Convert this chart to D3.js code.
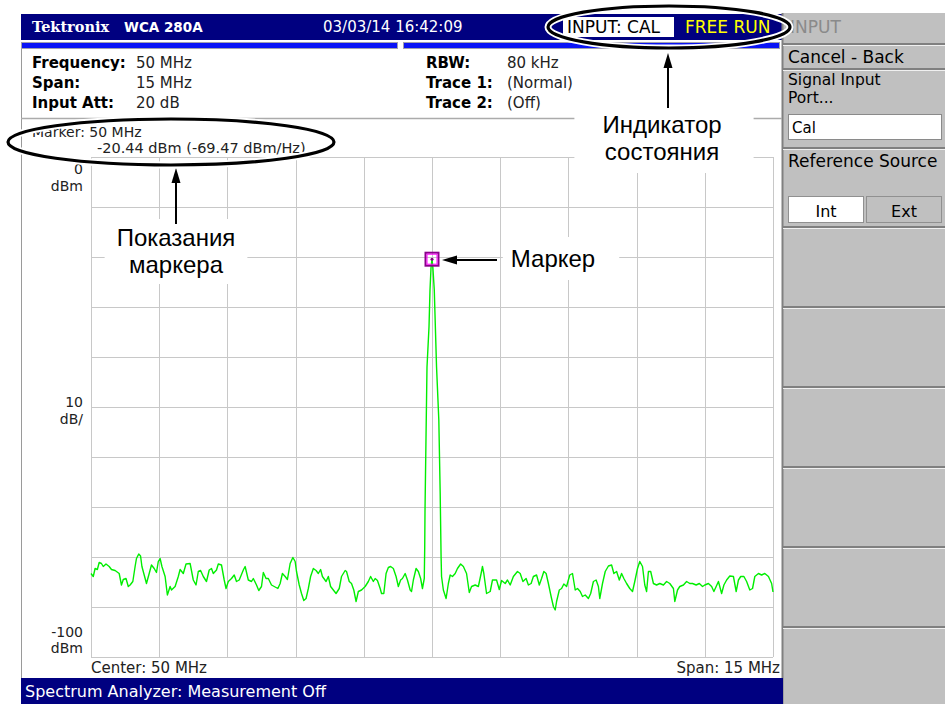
<!DOCTYPE html>
<html>
<head>
<meta charset="utf-8">
<script src="https://cdn.jsdelivr.net/npm/d3@7"></script>
<style>
  body { margin: 0; background: #fff; }
  svg text { font-family: "DejaVu Sans", sans-serif; }
  .note { font-family: "Liberation Sans", Arial, sans-serif; font-size: 24px; fill: #000; }
</style>
</head>
<body>
<svg id="screen" width="945" height="704"></svg>
<script>
// instrument state shown on the screen
var centerMHz = 50, spanMHz = 15;
var refLevel = 0, dbPerDiv = 10, divisions = 10;
var settingsLeft = [["Frequency:", "50 MHz"], ["Span:", "15 MHz"], ["Input Att:", "20 dB"]];
var settingsRight = [["RBW:", "80 kHz"], ["Trace 1:", "(Normal)"], ["Trace 2:", "(Off)"]];
var yLabels = [
  {level: 0, lines: ["0", "dBm"], place: "below"},
  {level: -50, lines: ["10", "dB/"], place: "middle"},
  {level: -100, lines: ["-100", "dBm"], place: "above"}
];
var markerMHz = 50, markerDbm = -20.44, markerDensity = -69.47;
var menuTitle = "INPUT";
var menuButtons = ["Int", "Ext"];

// trace 1, [MHz, dBm]
var trace = [
  [42.50,-83.3],[42.55,-83.9],[42.59,-82.3],[42.64,-82.5],[42.68,-81.1],[42.73,-81.3],[42.77,-81.9],[42.83,-81.4],
  [42.90,-81.9],[42.95,-82.5],[43.03,-82.7],[43.12,-83.3],[43.17,-85.6],[43.21,-84.5],[43.27,-84.3],[43.32,-85.9],
  [43.36,-85.6],[43.42,-84.9],[43.47,-81.9],[43.50,-80.3],[43.55,-79.4],[43.59,-79.8],[43.62,-81.9],[43.67,-83.6],
  [43.72,-85.3],[43.78,-83.3],[43.83,-81.6],[43.89,-82.3],[43.94,-83.1],[43.98,-80.9],[44.02,-80.3],[44.06,-81.9],
  [44.13,-83.9],[44.18,-87.6],[44.24,-85.9],[44.27,-86.6],[44.35,-85.9],[44.42,-83.9],[44.46,-82.5],[44.53,-83.3],
  [44.59,-81.4],[44.68,-81.3],[44.75,-84.6],[44.81,-85.6],[44.86,-82.9],[44.91,-82.7],[44.97,-83.9],[45.04,-84.9],
  [45.10,-82.6],[45.15,-82.3],[45.19,-83.3],[45.26,-82.6],[45.30,-81.4],[45.37,-81.6],[45.43,-84.6],[45.47,-86.3],
  [45.52,-84.9],[45.59,-84.3],[45.65,-83.6],[45.70,-84.9],[45.76,-84.6],[45.85,-82.6],[45.89,-81.9],[45.96,-84.6],
  [46.03,-84.9],[46.07,-84.3],[46.14,-85.6],[46.19,-86.7],[46.25,-85.9],[46.29,-83.1],[46.35,-84.3],[46.40,-84.3],
  [46.47,-85.6],[46.53,-85.9],[46.61,-86.3],[46.66,-85.3],[46.71,-83.3],[46.77,-83.9],[46.82,-84.5],[46.88,-81.3],
  [46.94,-80.1],[46.99,-80.9],[47.02,-82.9],[47.08,-85.6],[47.13,-87.3],[47.18,-88.7],[47.23,-88.3],[47.28,-86.3],
  [47.33,-83.9],[47.39,-82.3],[47.45,-82.7],[47.50,-83.3],[47.55,-82.5],[47.59,-83.9],[47.67,-84.9],[47.72,-83.9],
  [47.77,-85.9],[47.83,-86.6],[47.89,-87.3],[47.96,-86.3],[48.01,-83.9],[48.09,-82.7],[48.12,-82.9],[48.18,-84.9],
  [48.23,-85.3],[48.28,-86.6],[48.33,-88.9],[48.38,-86.9],[48.45,-86.6],[48.53,-85.9],[48.60,-84.9],[48.65,-83.9],
  [48.71,-84.9],[48.75,-84.3],[48.80,-84.7],[48.86,-86.3],[48.89,-87.3],[48.94,-87.3],[48.99,-83.3],[49.04,-82.1],
  [49.09,-81.9],[49.15,-82.3],[49.21,-83.9],[49.26,-85.9],[49.31,-84.6],[49.35,-84.3],[49.41,-83.3],[49.46,-84.6],
  [49.52,-86.6],[49.55,-86.9],[49.59,-84.6],[49.65,-82.3],[49.70,-82.9],[49.75,-84.3],[49.79,-86.3],[49.83,-84.3],
  [49.84,-78.0],[49.846,-71.0],[49.868,-56.2],[49.89,-42.0],[49.934,-34.0],[49.956,-26.6],[49.978,-22.2],[50.00,-20.44],
  [50.02,-22.2],[50.05,-26.6],[50.10,-42.0],[50.15,-52.6],[50.18,-67.2],[50.20,-80.0],
  [50.21,-83.9],[50.25,-86.6],[50.31,-88.3],[50.36,-85.3],[50.40,-83.6],[50.45,-83.9],[50.51,-83.3],[50.56,-82.3],
  [50.63,-81.4],[50.69,-81.9],[50.76,-83.3],[50.82,-87.1],[50.87,-85.9],[50.95,-85.6],[51.02,-85.9],[51.08,-83.3],
  [51.11,-81.9],[51.14,-83.3],[51.20,-87.3],[51.28,-86.9],[51.33,-84.6],[51.42,-84.6],[51.48,-86.5],[51.53,-84.7],
  [51.61,-85.3],[51.66,-84.6],[51.72,-85.6],[51.79,-83.9],[51.88,-82.9],[51.94,-83.3],[52.00,-84.9],[52.07,-84.3],
  [52.12,-85.6],[52.18,-85.3],[52.23,-83.9],[52.30,-83.6],[52.36,-85.6],[52.41,-84.3],[52.46,-82.9],[52.51,-83.3],
  [52.56,-85.3],[52.62,-87.9],[52.67,-89.9],[52.71,-90.6],[52.74,-88.9],[52.80,-86.6],[52.85,-86.3],[52.90,-85.4],
  [52.96,-85.9],[53.03,-83.6],[53.09,-83.3],[53.15,-86.6],[53.20,-86.3],[53.26,-86.9],[53.31,-87.9],[53.37,-87.6],
  [53.44,-88.3],[53.49,-87.3],[53.55,-84.9],[53.61,-84.6],[53.66,-85.9],[53.69,-88.3],[53.75,-85.3],[53.81,-82.9],
  [53.88,-81.8],[53.95,-81.6],[54.00,-83.3],[54.06,-82.9],[54.12,-84.6],[54.17,-83.3],[54.22,-84.3],[54.28,-85.3],
  [54.35,-86.3],[54.41,-86.9],[54.46,-84.9],[54.52,-82.3],[54.57,-80.9],[54.63,-81.9],[54.68,-85.6],[54.72,-86.9],
  [54.76,-82.9],[54.81,-82.9],[54.87,-85.3],[54.94,-85.6],[55.01,-85.3],[55.09,-85.6],[55.16,-84.9],[55.23,-85.3],
  [55.31,-86.3],[55.34,-88.9],[55.40,-86.6],[55.45,-85.9],[55.53,-85.6],[55.60,-84.9],[55.67,-85.3],[55.73,-85.3],
  [55.81,-85.6],[55.88,-85.3],[55.95,-85.9],[56.00,-85.6],[56.08,-85.3],[56.15,-85.9],[56.20,-86.9],[56.25,-85.9],
  [56.30,-84.9],[56.37,-87.3],[56.42,-85.6],[56.48,-84.6],[56.55,-83.8],[56.63,-83.9],[56.69,-86.9],[56.74,-84.6],
  [56.79,-83.9],[56.86,-83.9],[56.92,-84.9],[56.99,-86.6],[57.05,-86.3],[57.10,-83.9],[57.18,-83.3],[57.25,-83.6],
  [57.32,-83.3],[57.40,-83.9],[57.47,-85.3],[57.50,-87.0]
];

var navy = "#000080";
var svg = d3.select("#screen");

var x = d3.scaleLinear()
    .domain([centerMHz - spanMHz / 2, centerMHz + spanMHz / 2])
    .range([91, 773]);
var y = d3.scaleLinear()
    .domain([refLevel - dbPerDiv * divisions, refLevel])
    .range([657, 157]);

// ---- title bar
svg.append("rect").attr("x", 21).attr("y", 14).attr("width", 762).attr("height", 26).attr("fill", navy);
[[21, 376], [403, 376]].forEach(function(b){
  svg.append("rect").attr("x", b[0] + 0.5).attr("y", 42.5).attr("width", b[1]).attr("height", 6)
    .attr("fill", "#0a14f5").attr("stroke", "#a0a0b0");
});
svg.append("text").attr("x", 32).attr("y", 32).attr("fill", "#fff")
  .style("font-family", "'DejaVu Serif', serif").style("font-weight", "bold").style("font-size", "14.5px")
  .text("Tektronix");
svg.append("text").attr("x", 124).attr("y", 32).attr("fill", "#fff")
  .style("font-weight", "bold").style("font-size", "13.5px").text("WCA 280A");
svg.append("text").attr("x", 323).attr("y", 32).attr("fill", "#fff")
  .style("font-size", "15px").text("03/03/14 16:42:09");
svg.append("rect").attr("x", 563).attr("y", 17).attr("width", 111).attr("height", 20).attr("fill", "#fff");
svg.append("text").attr("x", 567).attr("y", 33).attr("fill", "#000").style("font-size", "17px").text("INPUT: CAL");
svg.append("text").attr("x", 685).attr("y", 33).attr("fill", "#ffff00").style("font-size", "17px").text("FREE RUN");

// ---- right menu panel
var panel = svg.append("g");
panel.append("rect").attr("x", 782).attr("y", 13).attr("width", 163).attr("height", 691).attr("fill", "#c0c0c0");
panel.append("line").attr("x1", 782.5).attr("x2", 782.5).attr("y1", 13).attr("y2", 704)
  .attr("stroke", "#808080").attr("stroke-width", 2);
[43, 68, 147, 226, 306, 386, 466, 546, 626].forEach(function(s){
  panel.append("rect").attr("x", 783).attr("y", s).attr("width", 162).attr("height", 2).attr("fill", "#808080");
  panel.append("rect").attr("x", 783).attr("y", s + 2).attr("width", 162).attr("height", 1).attr("fill", "#f0f0f0");
});
panel.append("text").attr("x", 790).attr("y", 33).attr("fill", "#8a8a8a").style("font-size", "17px").text(menuTitle);
panel.append("text").attr("x", 788).attr("y", 63).style("font-size", "17px").text("Cancel - Back");
panel.append("text").attr("x", 788).attr("y", 85).style("font-size", "15.5px").text("Signal Input");
panel.append("text").attr("x", 788).attr("y", 103).style("font-size", "15.5px").text("Port...");
panel.append("rect").attr("x", 788.5).attr("y", 114.5).attr("width", 153).attr("height", 25)
  .attr("fill", "#fff").attr("stroke", "#8a8a8a");
panel.append("text").attr("x", 792).attr("y", 133).style("font-size", "15px").text("Cal");
panel.append("text").attr("x", 788).attr("y", 167).style("font-size", "17px").text("Reference Source");
menuButtons.forEach(function(b, i){
  var bx = i === 0 ? 788.5 : 866.5;
  panel.append("rect").attr("x", bx).attr("y", 196.5).attr("width", 75).attr("height", 26)
    .attr("fill", i === 0 ? "#fff" : "#c0c0c0").attr("stroke", "#909090");
  panel.append("text").attr("x", bx + 37.5).attr("y", 217).attr("text-anchor", "middle")
    .style("font-size", "16px").text(b);
});

// ---- settings readout
svg.append("line").attr("x1", 21.5).attr("x2", 21.5).attr("y1", 49).attr("y2", 678)
  .attr("stroke", "#9a9a9a");
svg.append("line").attr("x1", 21).attr("x2", 782).attr("y1", 118.5).attr("y2", 118.5)
  .attr("stroke", "#ababab").attr("stroke-width", 1.5);
[[settingsLeft, 32, 136], [settingsRight, 426, 507]].forEach(function(col){
  col[0].forEach(function(row, i){
    svg.append("text").attr("x", col[1]).attr("y", 68 + i * 20)
      .style("font-weight", "bold").style("font-size", "15px").attr("fill", "#000").text(row[0]);
    svg.append("text").attr("x", col[2]).attr("y", 68 + i * 20)
      .style("font-size", "15px").attr("fill", "#222").text(row[1]);
  });
});

// ---- graticule
var grid = svg.append("g").attr("stroke", "#c8c8c8").attr("stroke-width", 1).attr("shape-rendering", "crispEdges");
d3.range(divisions + 1).forEach(function(i){
  var f = x.domain()[0] + i * spanMHz / divisions;
  grid.append("line").attr("x1", Math.round(x(f)) + 0.5).attr("x2", Math.round(x(f)) + 0.5)
    .attr("y1", y(refLevel)).attr("y2", y(refLevel - dbPerDiv * divisions));
  var l = refLevel - i * dbPerDiv;
  grid.append("line").attr("x1", x.range()[0]).attr("x2", x.range()[1])
    .attr("y1", Math.round(y(l)) + 0.5).attr("y2", Math.round(y(l)) + 0.5);
});

// ---- trace
var line = d3.line()
  .x(function(d){ return x(d[0]); })
  .y(function(d){ return y(d[1]); });
svg.append("path").datum(trace)
  .attr("d", line)
  .attr("fill", "none")
  .attr("stroke", "#00ee00")
  .attr("stroke-width", 1.4)
  .attr("stroke-linejoin", "round");

// marker box
svg.append("rect").attr("x", x(markerMHz) - 6.5).attr("y", y(markerDbm) - 6.5)
  .attr("width", 13).attr("height", 13).attr("fill", "none")
  .attr("stroke", "#8a008a").attr("stroke-width", 2);
svg.append("rect").attr("x", x(markerMHz) - 5).attr("y", y(markerDbm) - 5)
  .attr("width", 10).attr("height", 10).attr("fill", "none")
  .attr("stroke", "#ff00ff").attr("stroke-width", 1);
svg.append("circle").attr("cx", x(markerMHz)).attr("cy", y(markerDbm)).attr("r", 1.5).attr("fill", "#800080");

// ---- scale labels
yLabels.forEach(function(lab){
  var base = y(lab.level);
  var first = lab.place === "below" ? base + 17 : lab.place === "middle" ? base : base - 20.5;
  lab.lines.forEach(function(t, i){
    svg.append("text").attr("x", 83).attr("y", first + i * 16.5).attr("text-anchor", "end")
      .style("font-size", "14px").attr("fill", "#222").text(t);
  });
});
svg.append("text").attr("x", 91).attr("y", 673).style("font-size", "15px").attr("fill", "#222")
  .text("Center: " + centerMHz + " MHz");
svg.append("text").attr("x", 780).attr("y", 673).attr("text-anchor", "end").style("font-size", "15px")
  .attr("fill", "#222").text("Span: " + spanMHz + " MHz");

// marker readout
svg.append("text").attr("x", 32).attr("y", 136.5).style("font-size", "14px").attr("fill", "#222")
  .text("Marker: " + markerMHz + " MHz");
svg.append("text").attr("x", 97).attr("y", 153).style("font-size", "14.5px").attr("fill", "#222")
  .text(markerDbm.toFixed(2) + " dBm (" + markerDensity.toFixed(2) + " dBm/Hz)");

// status bar
svg.append("rect").attr("x", 21).attr("y", 678).attr("width", 762).attr("height", 26).attr("fill", navy);
svg.append("text").attr("x", 25).attr("y", 697).attr("fill", "#fff").style("font-size", "16px")
  .text("Spectrum Analyzer: Measurement Off");

// ---- callouts
function note(lines, cx, baseline, pad){
  var g = svg.append("g");
  var bg = g.append("rect").attr("fill", "#fff");
  lines.forEach(function(t, i){
    g.append("text").attr("class", "note").attr("x", cx).attr("y", baseline + i * 27)
      .attr("text-anchor", "middle").text(t);
  });
  var bb = g.node().getBBox();
  bg.attr("x", bb.x - pad[0]).attr("y", bb.y - pad[1])
    .attr("width", bb.width + pad[0] + pad[2]).attr("height", bb.height + pad[1] + pad[3]);
}
function ellipse(cx, cy, rx, ry){
  svg.append("ellipse").attr("cx", cx).attr("cy", cy).attr("rx", rx).attr("ry", ry)
    .attr("fill", "none").attr("stroke", "#fff").attr("stroke-width", 7);
  svg.append("ellipse").attr("cx", cx).attr("cy", cy).attr("rx", rx).attr("ry", ry)
    .attr("fill", "none").attr("stroke", "#000").attr("stroke-width", 3.2);
}
function arrow(x1, y1, x2, y2){
  var a = Math.atan2(y2 - y1, x2 - x1), len = 15, hw = 4.5;
  svg.append("line").attr("x1", x1).attr("y1", y1)
    .attr("x2", x2 - Math.cos(a) * len * 0.8).attr("y2", y2 - Math.sin(a) * len * 0.8)
    .attr("stroke", "#000").attr("stroke-width", 2);
  var bx = x2 - Math.cos(a) * len, by = y2 - Math.sin(a) * len;
  svg.append("path")
    .attr("d", "M" + x2 + "," + y2 +
      "L" + (bx - Math.sin(a) * hw) + "," + (by + Math.cos(a) * hw) +
      "L" + (bx + Math.sin(a) * hw) + "," + (by - Math.cos(a) * hw) + "Z")
    .attr("fill", "#000");
}

note(["Показания", "маркера"], 176, 246, [12, 5, 12, 6]);
arrow(176, 224, 176, 168);
ellipse(171, 142, 163, 23);

note(["Маркер"], 553, 267, [8, 8, 24, 8]);
arrow(497, 260, 442, 260);

note(["Индикатор", "состояния"], 662, 133, [28, 10, 32, 8]);
arrow(668, 108, 668, 53);
ellipse(669, 27, 121, 21);
</script>
</body>
</html>
